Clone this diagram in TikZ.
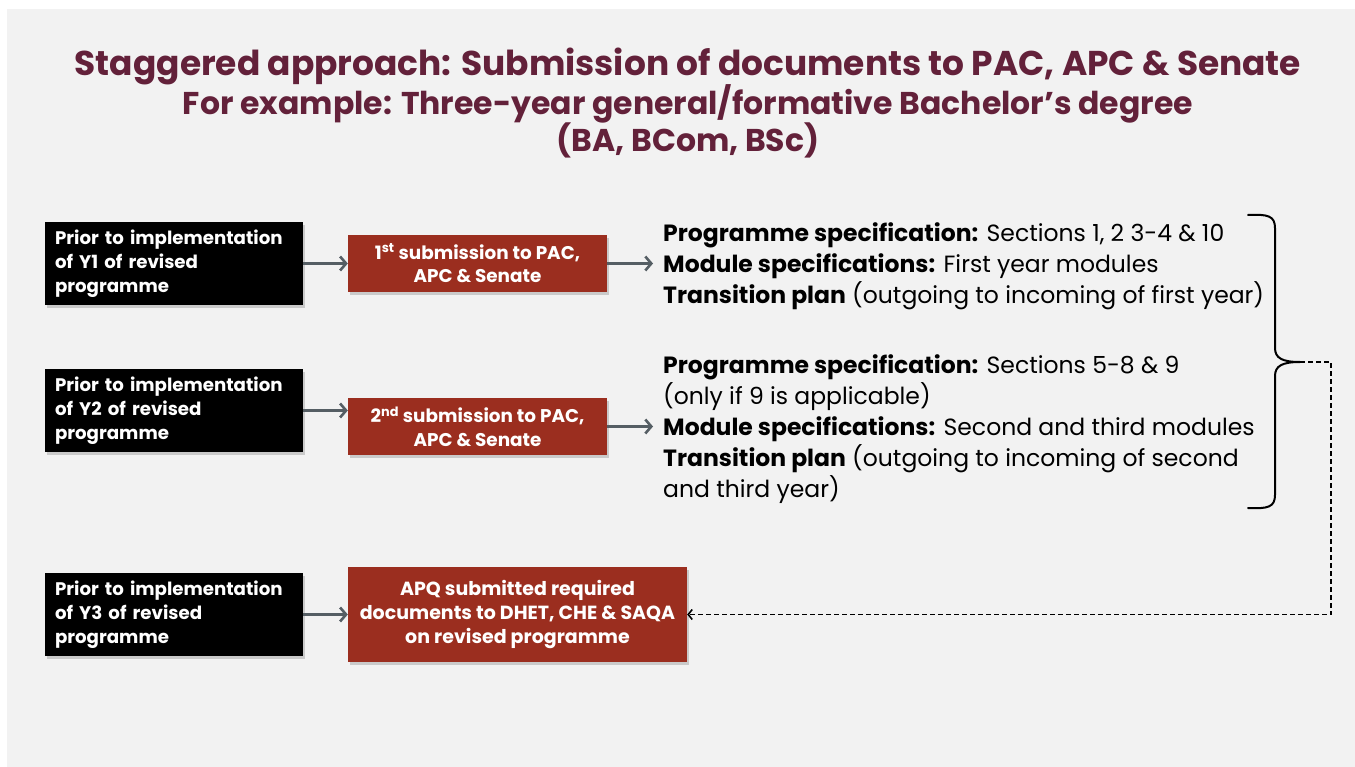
\documentclass[tikz,border=0pt]{standalone}
\usepackage{fontspec}
\setmainfont{Poppins}
\usetikzlibrary{arrows.meta,shadows}
\definecolor{bggray}{HTML}{F2F2F2}
\definecolor{titlemaroon}{HTML}{63213A}
\definecolor{boxred}{HTML}{9B2E1F}
\definecolor{arrowgray}{HTML}{555E64}
\tikzset{
  blackbox/.style={fill=black, text=white, font=\bfseries\fontsize{18.2}{24}\selectfont,
    align=left, text width=238pt, inner xsep=10pt, inner ysep=0pt, minimum height=83pt,
    drop shadow={shadow xshift=2pt, shadow yshift=-3pt, opacity=0.35}},
  redbox/.style={fill=boxred, text=white, font=\bfseries\fontsize{18.4}{23.5}\selectfont,
    align=center, inner sep=0pt,
    drop shadow={shadow xshift=2pt, shadow yshift=-3pt, opacity=0.35}},
  flowarrow/.style={draw=arrowgray, line width=2.6pt, -{Straight Barb[length=6pt,width=14pt]}},
  dasharrow/.style={draw=black, line width=1.6pt, dash pattern=on 5pt off 3pt,
    -{Straight Barb[length=4pt,width=10pt]}},
  spectext/.style={align=left, inner sep=0pt, text=black,
    font=\fontsize{23.5}{31}\selectfont},
  titletext/.style={text=titlemaroon, align=center, inner sep=0pt}
}
\begin{document}
\begin{tikzpicture}[x=1pt,y=-1pt]
\useasboundingbox (0,0) rectangle (1355,767);
\fill[white] (0,0) rectangle (1355,767);
\fill[bggray] (7,9) rectangle (1355,767);

% title
\node[titletext, font=\bfseries\fontsize{34.4}{40}\selectfont] (title1) at (688,66) {Staggered approach: Submission of documents to PAC, APC \& Senate};
\node[titletext, font=\bfseries\fontsize{31.5}{36}\selectfont] (title2) at (688,104) {For example: Three-year general/formative Bachelor’s degree};
\node[titletext, font=\bfseries\fontsize{31.5}{36}\selectfont] (title3) at (688,140) {(BA, BCom, BSc)};

% row 1
\node[blackbox] (b1) at (174,263.5) {Prior to implementation\\of Y1 of revised\\programme};
\node[redbox, minimum width=259pt, minimum height=57pt] (r1) at (477.5,263.5) {1\textsuperscript{st} submission to PAC,\\APC \& Senate};
\node[spectext, anchor=north west] (t1) at (663,222) {\textbf{Programme specification:} Sections 1, 2 3-4 \& 10\\\textbf{Module specifications:} First year modules\\\textbf{Transition plan} (outgoing to incoming of first year)};

% row 2
\node[blackbox] (b2) at (174,410.5) {Prior to implementation\\of Y2 of revised\\programme};
\node[redbox, minimum width=259pt, minimum height=57pt] (r2) at (477.5,426.5) {2\textsuperscript{nd} submission to PAC,\\APC \& Senate};
\node[spectext, anchor=north west] (t2) at (663,354) {\textbf{Programme specification:} Sections 5-8 \& 9\\(only if 9 is applicable)\\\textbf{Module specifications:} Second and third modules\\\textbf{Transition plan} (outgoing to incoming of second\\and third year)};

% row 3
\node[blackbox] (b3) at (174,614.5) {Prior to implementation\\of Y3 of revised\\programme};
\node[redbox, minimum width=339pt, minimum height=95pt, font=\bfseries\fontsize{19}{24}\selectfont] (r3) at (517.5,614.5) {APQ submitted required\\documents to DHET, CHE \& SAQA\\on revised programme};

% arrows
\draw[flowarrow] (b1.east) -- (r1.west);
\draw[flowarrow] (r1.east) -- ([xshift=-10pt]r1.east -| t1.west);
\draw[flowarrow] (b2.east) -- (b2.east -| r2.west);
\draw[flowarrow] (r2.east) -- ([xshift=-10pt]r2.east -| t2.west);
\draw[flowarrow] (b3.east) -- (r3.west);

% brace
\coordinate (bracetip) at (1300,362);
\draw[line width=2pt, black, line cap=round]
  (1248,215) .. controls (1268,214) and (1275,216) .. (1275,228)
  -- (1275,348) .. controls (1275,358) and (1282,362) .. (bracetip)
  .. controls (1282,362) and (1275,366) .. (1275,376)
  -- (1275,495) .. controls (1275,507) and (1268,509) .. (1248,508);

% dashed connector
\coordinate (dashcorner1) at (1331,362);
\coordinate (dashcorner2) at (1331,614.5);
\draw[dasharrow] (bracetip) -- (dashcorner1) -- (dashcorner2) -- (r3.east);
\end{tikzpicture}
\end{document}
